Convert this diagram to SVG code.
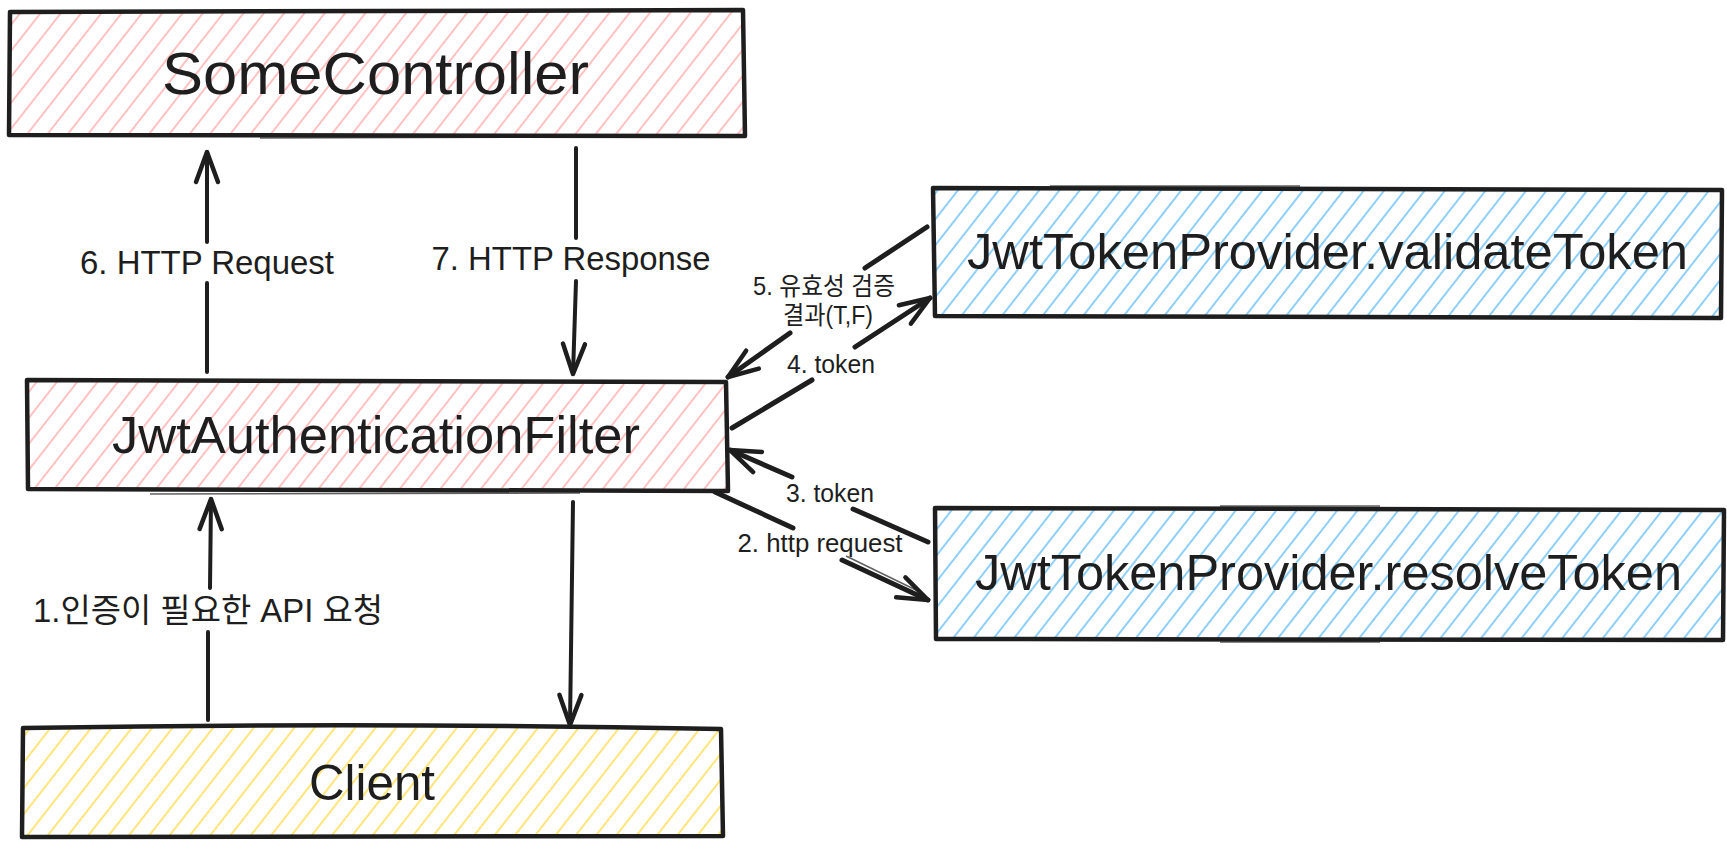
<svg xmlns="http://www.w3.org/2000/svg" width="1727" height="848" viewBox="0 0 1727 848">
<style>
.box{stroke:#1e1e1e;stroke-width:4.5;stroke-linejoin:round;stroke-linecap:round}
.sk{fill:none;stroke:#1e1e1e;stroke-width:1.5;opacity:0.7}
.title{font-family:"Liberation Sans","Noto Sans CJK KR",sans-serif;fill:#1e1e1e;text-anchor:middle}
.lbl{font-family:"Liberation Sans","Noto Sans CJK KR",sans-serif;fill:#1e1e1e;text-anchor:middle}
.ln{fill:none;stroke:#1e1e1e;stroke-width:4;stroke-linecap:round}
.lnb{fill:none;stroke:#1e1e1e;stroke-width:5;stroke-linecap:round}
</style>
<defs>
<pattern id="hPink" width="16" height="16" patternUnits="userSpaceOnUse" patternTransform="rotate(38)">
<line x1="8" y1="0" x2="8" y2="16" stroke="#ffc2c2" stroke-width="2"/>
</pattern>
<pattern id="hBlue" width="16" height="16" patternUnits="userSpaceOnUse" patternTransform="rotate(38)">
<line x1="8" y1="0" x2="8" y2="16" stroke="#8fcff8" stroke-width="2"/>
</pattern>
<pattern id="hYellow" width="16" height="16" patternUnits="userSpaceOnUse" patternTransform="rotate(38)">
<line x1="8" y1="0" x2="8" y2="16" stroke="#ffe57a" stroke-width="2"/>
</pattern>
<marker id="ah" markerUnits="userSpaceOnUse" markerWidth="40" markerHeight="30" refX="0" refY="0" viewBox="-34 -15 40 30" orient="auto" overflow="visible">
<path d="M -30 -11 L 0 0 L -30 11" fill="none" stroke="#1e1e1e" stroke-width="4.5" stroke-linecap="round" stroke-linejoin="round"/>
</marker>
</defs>

<g id="someController">
<path class="box" fill="url(#hPink)" d="M 10 12 L 743 10 L 745 136 L 9 135 Z"/>
<path class="sk" d="M 260 138 L 560 137"/>
<text class="title" x="375.5" y="94" font-size="60" textLength="427" lengthAdjust="spacingAndGlyphs">SomeController</text>
</g>

<g id="jwtAuthenticationFilter">
<path class="box" fill="url(#hPink)" d="M 27 380 L 726 382 L 728 491 L 28 489 Z"/>
<path class="sk" d="M 150 494 L 580 493"/>
<text class="title" x="376" y="453" font-size="52" textLength="528" lengthAdjust="spacingAndGlyphs">JwtAuthenticationFilter</text>
</g>

<g id="client">
<path class="box" fill="url(#hYellow)" d="M 23 728 Q 370 722 721 729 L 723 836 L 22 837 Z"/>
<text class="title" x="372" y="800" font-size="50" textLength="126" lengthAdjust="spacingAndGlyphs">Client</text>
</g>

<g id="validateToken">
<path class="box" fill="url(#hBlue)" d="M 933 188 L 1722 190 L 1721 318 L 935 316 Z"/>
<path class="sk" d="M 1050 186 L 1300 186"/>
<text class="title" x="1327.5" y="269" font-size="50" textLength="721" lengthAdjust="spacingAndGlyphs">JwtTokenProvider.validateToken</text>
</g>

<g id="resolveToken">
<path class="box" fill="url(#hBlue)" d="M 935 508 L 1724 510 L 1723 640 L 936 639 Z"/>
<path class="sk" d="M 1220 506 L 1380 506 M 1220 642 L 1380 642"/>
<text class="title" x="1328.5" y="590" font-size="50" textLength="707" lengthAdjust="spacingAndGlyphs">JwtTokenProvider.resolveToken</text>
</g>

<g id="connectors">
<path class="ln" d="M 207 372 L 207 283"/>
<path class="ln" d="M 207 242 L 207 152" marker-end="url(#ah)"/>
<text class="lbl" x="207" y="274" font-size="33" textLength="254" lengthAdjust="spacingAndGlyphs">6. HTTP Request</text>
<path class="ln" d="M 576 148 L 576 238"/>
<path class="ln" d="M 576 281 L 573 374" marker-end="url(#ah)"/>
<text class="lbl" x="571" y="270" font-size="33" textLength="279" lengthAdjust="spacingAndGlyphs">7. HTTP Response</text>
<path class="ln" d="M 208 720 L 208 632"/>
<path class="ln" d="M 210 588 L 211 499" marker-end="url(#ah)"/>
<text class="lbl" x="208" y="622" font-size="33" textLength="350" lengthAdjust="spacingAndGlyphs">1.인증이 필요한 API 요청</text>
<path class="ln" d="M 573 502 L 570 725" marker-end="url(#ah)"/>
<path class="lnb" d="M 927 227 L 865 268"/>
<path class="lnb" d="M 790 333 L 728 377" marker-end="url(#ah)"/>
<text class="lbl" x="824" y="295" font-size="25" textLength="142" lengthAdjust="spacingAndGlyphs">5. 유효성 검증</text>
<text class="lbl" x="828" y="324" font-size="25" textLength="90" lengthAdjust="spacingAndGlyphs">결과(T,F)</text>
<path class="lnb" d="M 732 428 L 812 380"/>
<path class="lnb" d="M 855 347 L 930 298" marker-end="url(#ah)"/>
<text class="lbl" x="831" y="373" font-size="25" textLength="88" lengthAdjust="spacingAndGlyphs">4. token</text>
<path class="lnb" d="M 928 542 L 853 509"/>
<path class="lnb" d="M 792 477 L 730 450" marker-end="url(#ah)"/>
<text class="lbl" x="830" y="502" font-size="25" textLength="88" lengthAdjust="spacingAndGlyphs">3. token</text>
<path class="lnb" d="M 715 492 L 793 528"/>
<path class="lnb" d="M 842 560 L 928 600" marker-end="url(#ah)"/>
<path class="sk" d="M 846 556 L 920 592"/>
<text class="lbl" x="820" y="552" font-size="25" textLength="165" lengthAdjust="spacingAndGlyphs">2. http request</text>
</g>
</svg>
